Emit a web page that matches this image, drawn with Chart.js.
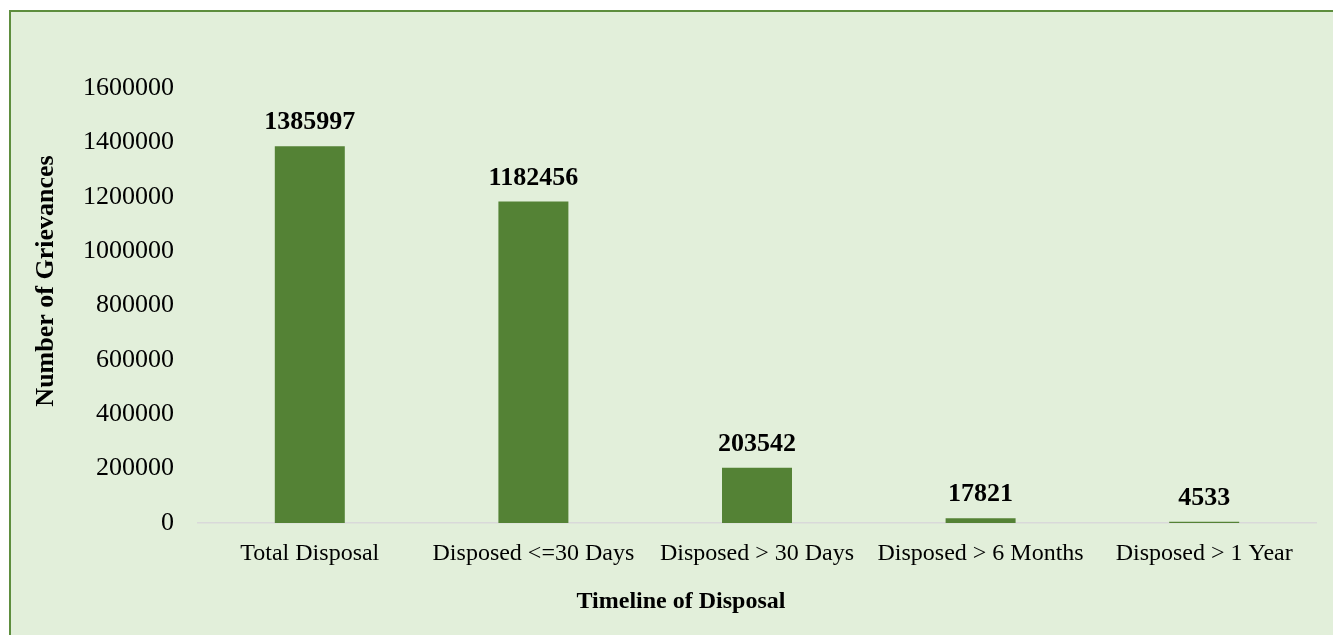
<!DOCTYPE html>
<html>
<head>
<meta charset="utf-8">
<script src="https://cdn.jsdelivr.net/npm/chart.js@4/dist/chart.umd.min.js"></script>
<style>
  html, body { margin: 0; padding: 0; background: #ffffff; overflow: hidden; }
  #frame {
    position: absolute; left: 9px; top: 10px; width: 1360px; height: 660px;
    background: #e2efda; border: 2px solid #5e8e3e; box-sizing: border-box;
  }
  #wrap { position: absolute; left: 0; top: 0; width: 1333px; height: 635px; }
</style>
</head>
<body>
<div id="frame"></div>
<div id="wrap"><canvas id="chart" width="1333" height="635"></canvas></div>
<script>
//Categories along the x axis
var categories = ['Total Disposal', 'Disposed <=30 Days', 'Disposed > 30 Days', 'Disposed > 6 Months', 'Disposed > 1 Year'];

//Number of grievances per category
var grievances = [1385997, 1182456, 203542, 17821, 4533];

//Y axis tick values
var yTicks = [0, 200000, 400000, 600000, 800000, 1000000, 1200000, 1400000, 1600000];

var xTitle = 'Timeline of Disposal';
var yTitle = 'Number of Grievances';

var serif = '"Liberation Serif", "Times New Roman", serif';

//Draw value labels above bars and the axis titles
var labelPlugin = {
	id: 'labels',
	afterDatasetsDraw: function(chart) {
		var ctx = chart.ctx;
		var meta = chart.getDatasetMeta(0);
		ctx.save();
		ctx.fillStyle = '#000';
		ctx.font = 'bold 26px ' + serif;
		ctx.textAlign = 'center';
		ctx.textBaseline = 'alphabetic';
		for (var i = 0; i < meta.data.length; i++) {
			var bar = meta.data[i];
			ctx.fillText(String(grievances[i]), bar.x, bar.y - 17);
		}

		//axis titles
		ctx.font = 'bold 24px ' + serif;
		ctx.textBaseline = 'middle';
		ctx.fillText(xTitle, 681, 602);
		ctx.translate(46, 281);
		ctx.rotate(-Math.PI / 2);
		ctx.font = 'bold 26px ' + serif;
		ctx.fillText(yTitle, 0, 0);
		ctx.restore();
	}
};

var ctx = document.getElementById('chart').getContext('2d');
var chart = new Chart(ctx, {
	type: 'bar',
	data: {
		labels: categories,
		datasets: [{
			data: grievances,
			backgroundColor: '#548235',
			borderWidth: 0,
			categoryPercentage: 1,
			barPercentage: 0.313
		}]
	},
	options: {
		responsive: false,
		animation: false,
		devicePixelRatio: 1,
		layout: { padding: { top: 88, right: 17, left: 0, bottom: 0 } },
		plugins: {
			legend: { display: false },
			tooltip: { enabled: false }
		},
		scales: {
			x: {
				grid: { display: false, drawTicks: false },
				border: { display: true, color: '#d9d9d9', width: 1.5 },
				ticks: {
					color: '#000',
					font: { family: serif, size: 24 },
					padding: 16,
					maxRotation: 0,
					autoSkip: false
				},
				afterFit: function(scale) { scale.height = 112; }
			},
			y: {
				min: 0,
				max: 1600000,
				grid: { display: false, drawTicks: false },
				border: { display: false },
				afterBuildTicks: function(scale) {
					scale.ticks = yTicks.map(function(v) { return { value: v }; });
				},
				ticks: {
					color: '#000',
					font: { family: serif, size: 26 },
					padding: 24,
					callback: function(v) { return String(v); }
				},
				afterFit: function(scale) { scale.width = 198; }
			}
		}
	},
	plugins: [labelPlugin]
});
</script>
</body>
</html>
